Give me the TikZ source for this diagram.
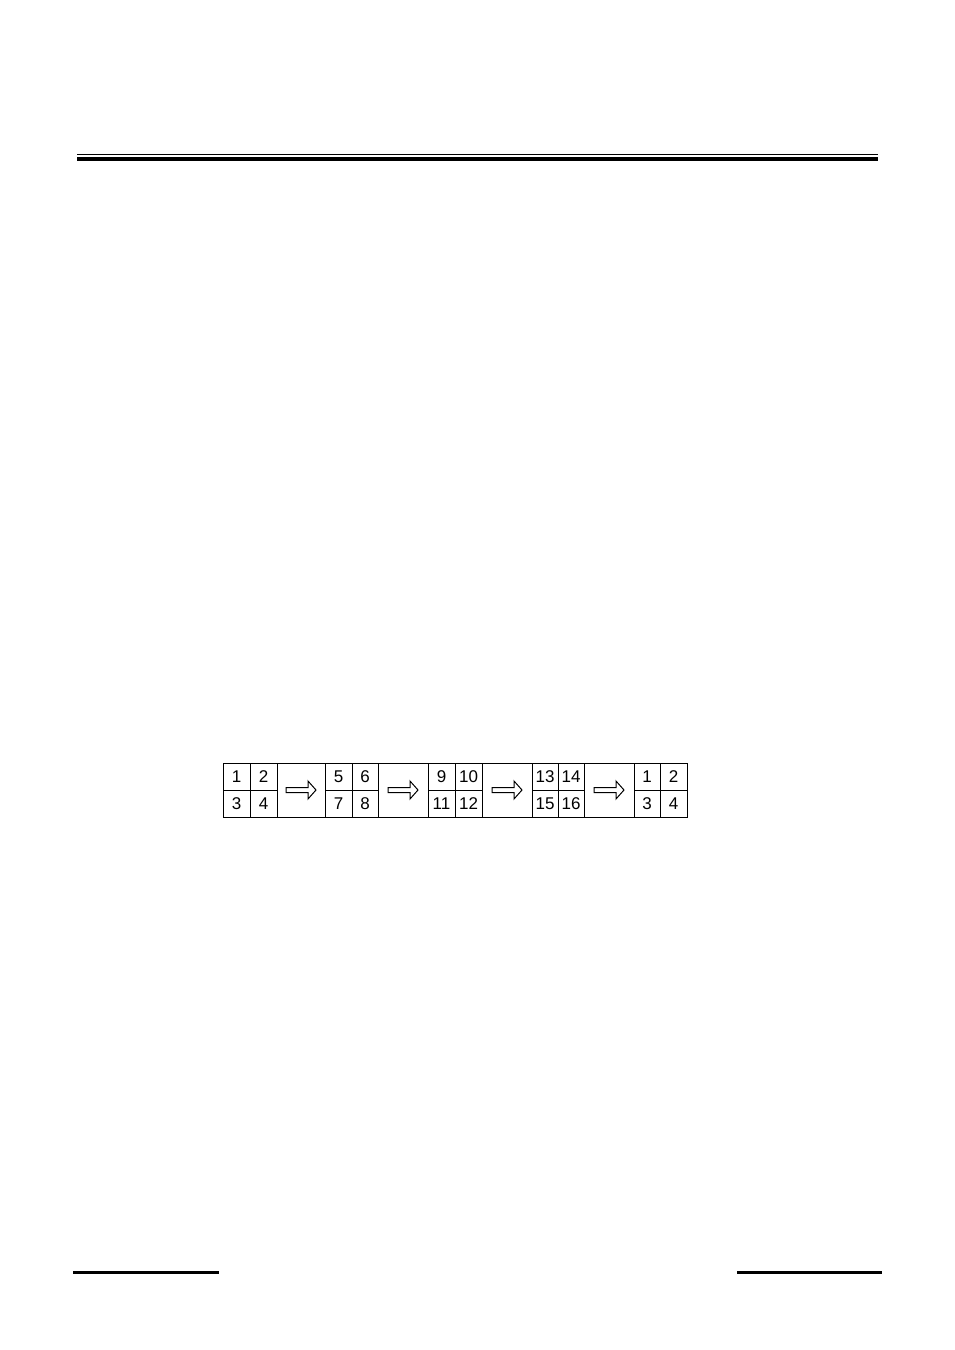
\documentclass[tikz,border=0pt]{standalone}
\usepackage{fontspec}
\setmainfont{Liberation Sans}
\begin{document}
\begin{tikzpicture}[x=1pt,y=-1pt,
  cell/.style={draw, line width=1pt, minimum height=27pt, inner sep=0pt, font=\fontsize{17}{17}\selectfont},
  arrowcell/.style={draw, line width=1pt, minimum height=54pt, inner sep=0pt},
  rule/.style={line width=#1, line cap=butt},
  blockarrow/.pic={\draw[line width=1pt, line join=miter] (-15,-2.5) -- (7,-2.5) -- (7,-9) -- (15,0) -- (7,9) -- (7,2.5) -- (-15,2.5) -- cycle;}]
\useasboundingbox (0,0) rectangle (954,1350);
% header rules
\draw[rule=1pt] (77,154) -- (878,154);
\draw[rule=3.5pt] (77,159.2) -- (878,159.2);
% footer rules
\draw[rule=3pt] (73,1272) -- (219,1272);
\draw[rule=3pt] (737,1272) -- (882,1272);
% number cells
\foreach \g/\xa/\xb/\xc/\na/\nb/\nc/\nd in {1/223/250/277/1/2/3/4, 2/325/352/378/5/6/7/8, 3/428/455/482/9/10/11/12, 4/532/558/584/13/14/15/16, 5/634/660/687/1/2/3/4}{
  \node[cell, minimum width={\xb-\xa}] (g\g a) at ({(\xa+\xb)/2},777) {\na};
  \node[cell, minimum width={\xc-\xb}] (g\g b) at ({(\xb+\xc)/2},777) {\nb};
  \node[cell, minimum width={\xb-\xa}] (g\g c) at ({(\xa+\xb)/2},803.5) {\nc};
  \node[cell, minimum width={\xc-\xb}] (g\g d) at ({(\xb+\xc)/2},803.5) {\nd};
}
% arrow cells
\foreach \i/\xa/\xb in {1/277/325, 2/378/428, 3/482/532, 4/584/634}{
  \node[arrowcell, minimum width={\xb-\xa}] (ar\i) at ({(\xa+\xb)/2},790) {};
  \pic at (ar\i.center) {blockarrow};
}
\end{tikzpicture}
\end{document}
